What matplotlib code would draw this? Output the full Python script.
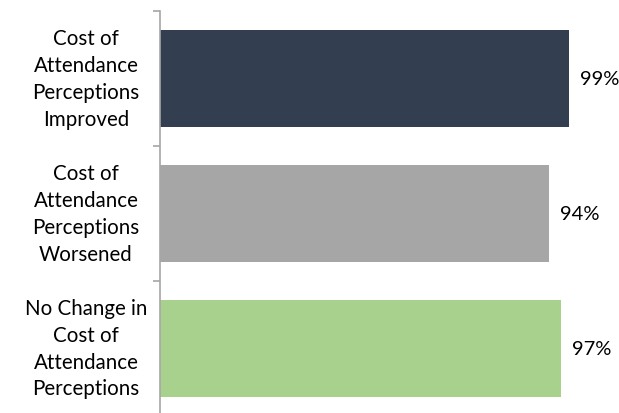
import matplotlib
matplotlib.use("Agg")
import matplotlib.pyplot as plt
import matplotlib.transforms as mtransforms

categories = [
    "Cost of\nAttendance\nPerceptions\nImproved",
    "Cost of\nAttendance\nPerceptions\nWorsened",
    "No Change in\nCost of\nAttendance\nPerceptions",
]
values = [99, 94, 97]
colors = ["#333F50", "#A6A6A6", "#A9D18E"]

plt.rcParams["font.family"] = ["Lato", "DejaVu Sans"]

fig = plt.figure(figsize=(6.19, 4.14), dpi=100)
ax = fig.add_axes([0.259, -0.007, 0.734, 0.978])

pos = list(range(len(values)))
ax.barh(pos, values, height=0.72, color=colors)
ax.set_ylim(2.5, -0.5)
ax.set_xlim(0, 110)

# value labels right of each bar
for p, v in zip(pos, values):
    ax.annotate(f"{v}%", (v, p), xytext=(8, 0), textcoords="offset points",
                va="center", ha="left", fontsize=14.5, color="black")

# category labels centred in the left margin
trans = mtransforms.blended_transform_factory(fig.transFigure, ax.transData)
for p, lab in zip(pos, categories):
    ax.text(0.139, p, lab, transform=trans, ha="center", va="center",
            fontsize=14.8, linespacing=1.42, color="black")

for s in ["top", "right", "bottom"]:
    ax.spines[s].set_visible(False)
ax.spines["left"].set_color("#A6A6A6")
ax.spines["left"].set_linewidth(1.2)
ax.set_xticks([])
ax.set_yticks([-0.5, 0.5, 1.5, 2.5])
ax.set_yticklabels([])
ax.tick_params(axis="y", length=5, color="#A6A6A6", width=1.2)

fig.savefig("out.png", dpi=100)
